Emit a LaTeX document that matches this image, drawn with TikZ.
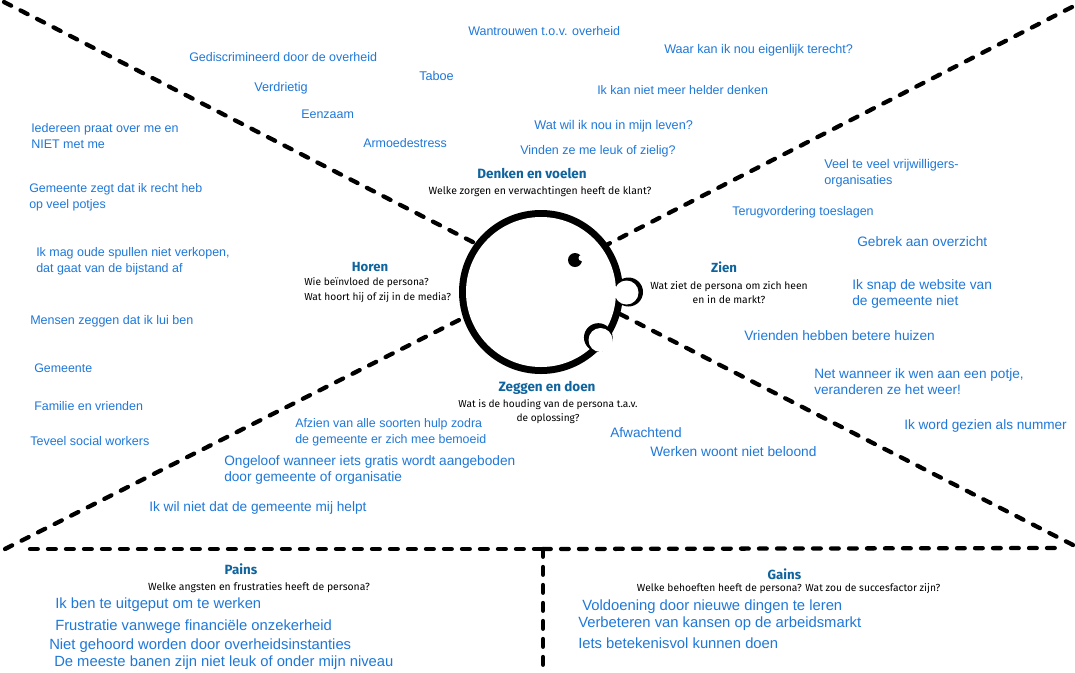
\documentclass[tikz,border=0pt]{standalone}
\usepackage{fontspec}
\setmainfont{Liberation Sans}
\newfontfamily\dinfont{Fira Sans}
\usepackage{xcolor}
\definecolor{noteblue}{HTML}{1F78D8}
\definecolor{headblue}{HTML}{10649E}
\usetikzlibrary{calc}
\tikzset{
	note/.style={anchor=west,inner sep=0pt,align=left,text=noteblue,yshift=-1pt},
	zone/.style={anchor=center,inner sep=0pt,align=center,text=headblue},
	vraag/.style={anchor=center,inner sep=0pt,align=center,text=black,yshift=-0.8pt},
	grens/.style={line width=3.2pt,dash pattern=on 6pt off 7.9pt,line cap=round},
	vlak/.style={line width=3.2pt,dash pattern=on 5.8pt off 7.7pt,line cap=round},
}
\begin{document}
\begin{tikzpicture}[x=0.75pt,y=-0.75pt]
		  \useasboundingbox[fill=white] (0,0) rectangle (1075,672);
		  % grenzen
		  \coordinate (lb) at (4,2);
		  \coordinate (rb) at (1072,7);
		  \coordinate (lo) at (5,549);
		  \coordinate (ro) at (1073,545);
		  \coordinate (ml) at (30,549);
		  \coordinate (mm) at (543,549);
		  \coordinate (mr) at (1058,548);
		  \coordinate (mo) at (543,672);
		  % hoofd
		  \node[circle,draw,line width=6pt,minimum size=117pt,inner sep=0pt,outer sep=0pt] (hoofd) at (541,292) {};
		  \draw[grens] (lb) -- (hoofd.143);
		  \draw[grens] (rb) -- (hoofd.36);
		  \draw[grens] (lo) -- (hoofd.198);
		  \draw[grens] (ro) -- (hoofd.-15);
		  \draw[vlak] (ml) -- (mm);
		  \draw[vlak] (mm) -- (mr);
		  \draw[vlak] (mm) -- (mo);
		  \node[circle,fill=black,minimum size=21.75pt,inner sep=0pt] (neus) at (628.5,292) {};
		  \node[circle,fill=white,minimum size=112.5pt,inner sep=0pt] (binnen) at (541,292) {};
		  \node[circle,fill=white,minimum size=18pt,inner sep=0pt] (neusb) at (626.5,292.5) {};
		  \node[circle,fill=black,minimum size=21.5pt,inner sep=0pt] (mond) at (598.3,337.5) {};
		  \node[circle,fill=white,minimum size=18pt,inner sep=0pt] (mondb) at (600.5,340) {};
		  \node[circle,fill=black,minimum size=10.5pt,inner sep=0pt] (oog) at (575,260) {};
		  \node[circle,fill=white,minimum size=4.5pt,inner sep=0pt] (oogb) at (581.5,258) {};
		  % koppen en vragen
		  \foreach \x /\y /\s/\alph/\name in {
		  		532/173/10.1/k1/Denken en voelen,
		  		370/267/9.9/k2/Horen,
		  		724/267/9.9/k3/Zien,
		  		547/388/10.1/k4/Zeggen en doen,
		  		241/569/10/k5/Pains,
		  		786/574/9.9/k6/Gains
		  }{
		  	\node[zone,font=\dinfont\bfseries\fontsize{\s}{11}\selectfont] (\alph) at (\x,\y) {\name};
		  }
		  \foreach \x /\y /\s/\alph/\name in {
		  		540/190/7.85/v1/Welke zorgen en verwachtingen heeft de klant?,
		  		729/291/7.75/v3/Wat ziet de persona om zich heen\\en in de markt?,
		  		548/411/7.6/v4/Wat is de houding van de persona t.a.v.\\de oplossing?,
		  		259/586/7.8/v5/Welke angsten en frustraties heeft de persona?,
		  		790.5/587.5/7.7/v6/Welke behoeften heeft de persona? Wat zou de succesfactor zijn?
		  }{
		  	\node[vraag,font=\dinfont\fontsize{\s}{10.5}\selectfont] (\alph) at (\x,\y) {\name};
		  }
		  \node[vraag,anchor=west,align=left,font=\dinfont\fontsize{7.65}{11}\selectfont] (v2) at (304,289) {Wie beïnvloed de persona?\\Wat hoort hij of zij in de media?};
		  % notities
		  \foreach \x /\y /\s/\alph/\name in {
		  		468/29.5/9.37/n1/Wantrouwen t.o.v. overheid,
		  		664/48.5/9.45/n2/Waar kan ik nou eigenlijk terecht?,
		  		189/55.5/9.35/n3/Gediscrimineerd door de overheid,
		  		419/75/9.5/n4/Taboe,
		  		254/86.5/9.5/n5/Verdrietig,
		  		597/89/9.33/n6/Ik kan niet meer helder denken,
		  		301/112.5/9.35/n7/Eenzaam,
		  		534/124.5/9.5/n8/Wat wil ik nou in mijn leven?,
		  		31/135/9.38/n9/Iedereen praat over me en\\NIET met me,
		  		363/141.5/9.33/n10/Armoedestress,
		  		520/149.5/9.37/n11/Vinden ze me leuk of zielig?,
		  		824/171.5/9.5/n12/Veel te veel vrijwilligers-\\organisaties,
		  		29/195.5/9.3/n13/Gemeente zegt dat ik recht heb\\op veel potjes,
		  		732/211/9.4/n14/Terugvordering toeslagen,
		  		857/240/10.25/n15/Gebrek aan overzicht,
		  		36/259.5/9.35/n16/{Ik mag oude spullen niet verkopen,\\dat gaat van de bijstand af},
		  		852/293/10.3/n17/Ik snap de website van\\de gemeente niet,
		  		30/319.5/9.4/n18/Mensen zeggen dat ik lui ben,
		  		744/334/10.27/n19/Vrienden hebben betere huizen,
		  		34/366.5/9.3/n20/Gemeente,
		  		814/380/10.2/n21/{Net wanneer ik wen aan een potje,\\veranderen ze het weer!},
		  		34/405/9.35/n22/Familie en vrienden,
		  		904/425/10.2/n23/Ik word gezien als nummer,
		  		30/440/9.4/n24/Teveel social workers,
		  		295/431/9.3/n25/Afzien van alle soorten hulp zodra\\de gemeente er zich mee bemoeid,
		  		610/431/10.25/n26/Afwachtend,
		  		650/450/10.3/n27/Werken woont niet beloond,
		  		224/469/10.25/n28/Ongeloof wanneer iets gratis wordt aangeboden\\door gemeente of organisatie,
		  		149/507/10.25/n29/Ik wil niet dat de gemeente mij helpt,
		  		55/603/11.07/n30/Ik ben te uitgeput om te werken,
		  		55/625/11.08/n31/Frustratie vanwege financiële onzekerheid,
		  		49/644/11.1/n32/Niet gehoord worden door overheidsinstanties,
		  		54/661/11.08/n33/De meeste banen zijn niet leuk of onder mijn niveau,
		  		582/605/11.1/n34/Voldoening door nieuwe dingen te leren,
		  		578/622/11.1/n35/Verbeteren van kansen op de arbeidsmarkt,
		  		578/642/11.1/n36/Iets betekenisvol kunnen doen
		  }{
		  	\node[note,font=\fontsize{\s}{12}\selectfont] (\alph) at (\x,\y) {\name};
		  }
\end{tikzpicture}
\end{document}
